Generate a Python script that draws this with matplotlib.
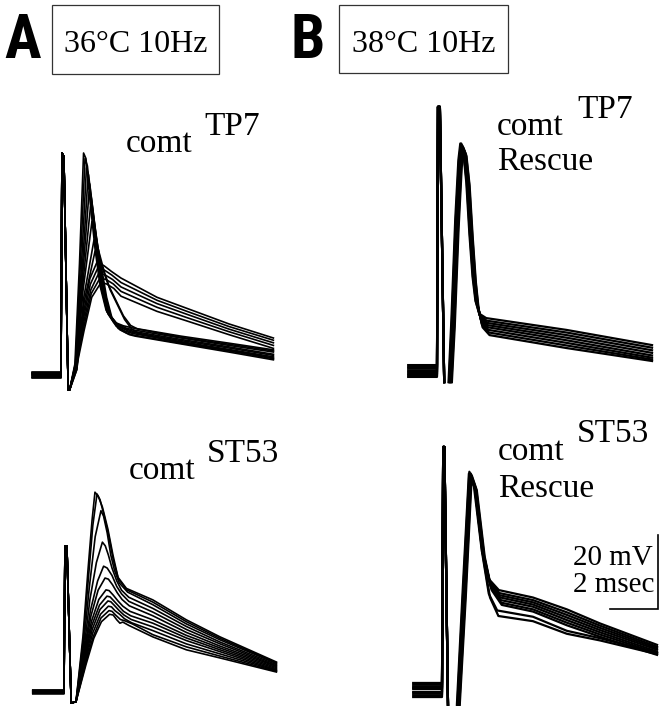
import matplotlib
matplotlib.use("Agg")
import matplotlib.pyplot as plt
from matplotlib.patches import Rectangle

W, H = 665, 719
PX_MS, PX_MV = 24.0, 3.7   # scale bar: 2 msec = 48 px, 20 mV = 74 px

# ---- A, top: comt TP7 at 36C ----
A1_T0 = -1.2
A1_BASE = [0.8, -0.6, 0.3, -0.2, 0.6, -0.8, 0.1, 0.5, -0.4, 0.7, -0.1, 0.2, -0.7, 0.4]
A1_ART_T = [0.04, 0.12, 0.3]
A1_ART_V = [60.0, 59.0, -4.0]
A1_SWEEPS = [
    ([.36, .58, .77, .94, 1.04, 1.21, 1.42, 1.63, 1.88, 2.2, 2.55, 3.0, 5.0, 7.0, 8.85],
     [-4, 3, 30, 60, 58.5, 47, 34, 24, 17.5, 14.2, 12.8, 11.8, 9.6, 7.6, 5.6]),
    ([.36, .6, .8, 1.0, 1.1, 1.27, 1.48, 1.68, 1.92, 2.25, 2.6, 3.0, 5.0, 7.0, 8.85],
     [-4, 3, 29, 58.5, 56.5, 46, 33, 23.5, 17, 14.2, 13.3, 12.7, 10.5, 8.6, 6.8]),
    ([.36, .6, .83, 1.06, 1.15, 1.32, 1.52, 1.72, 1.96, 2.3, 2.65, 3.0, 5.0, 7.0, 8.85],
     [-4, 2.5, 27, 56, 54, 44.5, 32.5, 23, 16.5, 13.2, 11.9, 11.2, 9.0, 6.9, 4.9]),
    ([.36, .62, .86, 1.12, 1.2, 1.36, 1.56, 1.76, 2.0, 2.34, 2.7, 3.0, 5.0, 7.0, 8.85],
     [-4, 2.5, 26, 53, 51.5, 43, 31.5, 22.5, 16.5, 13.8, 12.7, 12.2, 10.0, 8.0, 6.2]),
    ([.36, .62, .88, 1.17, 1.25, 1.4, 1.6, 1.8, 2.04, 2.38, 2.75, 3.0, 5.0, 7.0, 8.85],
     [-4, 2, 25, 49.5, 48.5, 41, 30.5, 22, 16, 12.6, 11.3, 10.8, 8.6, 6.5, 4.4]),
    ([.36, .64, .9, 1.23, 1.31, 1.45, 1.65, 1.85, 2.08, 2.42, 2.8, 3.0, 5.0, 7.0, 8.85],
     [-4, 2, 24, 45.5, 44.5, 38.5, 29.5, 21.5, 15.8, 13, 11.9, 11.5, 9.3, 7.3, 5.3]),
    ([.36, .64, .92, 1.29, 1.37, 1.5, 1.7, 1.9, 2.12, 2.46, 2.85, 3.1, 5.0, 7.0, 8.85],
     [-4, 2, 23, 41.5, 40.5, 36, 28.5, 21, 15.5, 12.2, 10.9, 10.5, 8.4, 6.2, 4.1]),
    ([.36, .66, .95, 1.375, 1.55, 1.8, 2.0, 2.3, 2.6, 2.9, 3.2, 5.0, 7.0, 8.85],
     [-4, 1.5, 21, 36.5, 34, 28, 24, 20, 16, 13.4, 12.4, 10.2, 8.3, 6.5]),
    ([.36, .66, .97, 1.42, 1.6, 1.85, 2.05, 2.35, 2.65, 2.95, 3.3, 5.0, 7.0, 8.85],
     [-4, 1.5, 20, 33.5, 31.5, 26.5, 23, 19, 15, 12.4, 11, 8.8, 6.7, 4.6]),
    ([.36, .67, .92, 1.2, 1.5, 1.8, 2.1, 2.5, 4.0, 5.25, 7.0, 8.85],
     [-4, 5, 16, 26, 30.5, 29.5, 28, 26.2, 21, 18, 13.8, 10]),
    ([.36, .67, .93, 1.22, 1.54, 1.82, 2.12, 2.5, 4.0, 5.25, 7.0, 8.85],
     [-4, 4.5, 15, 24.5, 29, 28.3, 27, 25, 20.2, 17.2, 13.1, 9.4]),
    ([.36, .68, .94, 1.24, 1.58, 1.85, 2.15, 2.5, 4.0, 5.25, 7.0, 8.85],
     [-4, 4, 14, 23, 27.6, 27, 25.8, 23.8, 19.3, 16.4, 12.4, 8.7]),
    ([.36, .68, .95, 1.26, 1.625, 1.88, 2.18, 2.5, 4.0, 5.25, 7.0, 8.85],
     [-4, 4, 13, 22, 26.2, 25.8, 24.6, 22.6, 18.3, 15.5, 11.7, 8.0]),
    ([.36, .69, .96, 1.28, 1.67, 1.9, 2.2, 2.5, 4.0, 5.25, 7.0, 8.85],
     [-4, 3.5, 12, 21, 25, 24.6, 23.4, 21.3, 17.2, 14.6, 10.9, 7.2]),
]

# ---- A, bottom: comt ST53 at 36C ----
A2_T0 = -1.3
A2_BASE = [0.5, -0.3, 0.2, -0.5, 0.4, -0.1, 0.3, -0.4, 0.1, 0.5, -0.2, 0.0]
A2_ART_T = [0.04, 0.12, 0.3]
A2_ART_V = [39.5, 39.5, -3.0]
A2_SWEEPS = [
    ([.5, .79, 1.0, 1.17, 1.29, 1.42, 1.6, 1.83, 2.04, 2.25, 2.6, 3.7, 5.1, 6.5, 8.85],
     [-2.6, 15, 33, 46.5, 54, 53, 50, 44, 37, 31, 28, 24.9, 19.5, 14.9, 8.1]),
    ([.5, .8, 1.02, 1.2, 1.375, 1.5, 1.66, 1.87, 2.06, 2.27, 2.62, 3.7, 5.1, 6.5, 8.85],
     [-2.6, 14, 31, 45, 53.5, 52, 48, 42, 35.5, 30.5, 27.6, 24.3, 19, 14.5, 7.9]),
    ([.5, .82, 1.05, 1.3, 1.54, 1.65, 1.8, 1.95, 2.1, 2.3, 2.65, 3.7, 5.1, 6.5, 8.85],
     [-2.6, 13, 28, 42, 49, 47.5, 43, 37, 33, 29.5, 27, 23.6, 18.4, 14.1, 7.7]),
    ([.5, .84, 1.08, 1.35, 1.6, 1.72, 1.85, 2.0, 2.2, 2.4, 2.7, 3.7, 5.1, 6.5, 8.85],
     [-2.6, 12, 25, 35, 40.5, 39.5, 37, 33.5, 30, 27.5, 25.6, 22.6, 17.7, 13.5, 7.4]),
    ([.5, .85, 1.1, 1.4, 1.65, 1.8, 2.0, 2.2, 2.4, 2.7, 3.7, 5.1, 6.5, 8.85],
     [-2.6, 11, 22, 30, 34, 33.5, 31.5, 28.5, 26.5, 24.5, 21.6, 16.9, 13, 7.1]),
    ([.5, .86, 1.12, 1.42, 1.71, 1.85, 2.02, 2.22, 2.42, 2.72, 3.7, 5.1, 6.5, 8.85],
     [-2.6, 10.5, 20.5, 27.5, 30.8, 30.5, 29, 26.8, 25, 23.3, 20.6, 16.1, 12.4, 6.9]),
    ([.5, .87, 1.14, 1.45, 1.75, 1.88, 2.05, 2.25, 2.45, 2.75, 3.7, 5.1, 6.5, 8.85],
     [-2.6, 10, 19, 25, 27.6, 27.4, 26.2, 24.6, 23.2, 21.8, 19.5, 15.3, 11.9, 6.6]),
    ([.5, .88, 1.16, 1.48, 1.79, 1.92, 2.08, 2.28, 2.48, 2.78, 3.7, 5.1, 6.5, 8.85],
     [-2.6, 9.5, 18, 23.5, 25.9, 25.7, 24.6, 23.2, 21.8, 20.6, 18.6, 14.6, 11.4, 6.3]),
    ([.5, .89, 1.18, 1.5, 1.83, 1.95, 2.1, 2.3, 2.5, 2.8, 3.7, 5.1, 6.5, 8.85],
     [-2.6, 9, 17, 22.3, 24.6, 24.4, 23.4, 22, 20.8, 19.6, 17.6, 13.9, 10.9, 6.0]),
    ([.5, .9, 1.2, 1.52, 1.85, 1.98, 2.12, 2.32, 2.52, 2.82, 3.7, 5.1, 6.5, 8.85],
     [-2.6, 8.5, 16, 21, 23.2, 23, 22, 21, 19.8, 18.7, 16.6, 13, 10.3, 5.8]),
    ([.5, .91, 1.22, 1.54, 1.875, 2.0, 2.15, 2.35, 2.55, 2.85, 3.7, 5.1, 6.5, 8.85],
     [-2.6, 8, 15, 20, 22, 21.8, 20.8, 19.6, 19.2, 18.4, 15.5, 12.2, 9.7, 5.6]),
    ([.5, .92, 1.24, 1.56, 1.9, 2.05, 2.2, 2.33, 2.45, 2.7, 3.7, 5.1, 6.5, 8.85],
     [-2.6, 7.5, 14.5, 19, 21, 20.8, 19.5, 18.6, 18.9, 18.0, 14.9, 11.4, 9.2, 5.4]),
]

# ---- B, top: comt TP7 Rescue at 38C ----
B1_T0 = -1.2
B1_BASE = [1.6, -1.2, 0.7, -0.3, 1.1, -1.6, 0.2, -0.8]
B1_ART_T = [0.04, 0.12, 0.3]
B1_ART_V = [71.4, 71.4, -3.0]
B1_SWEEPS = [
    ([.48, .6, .76, .89, .97, 1.09, 1.22, 1.35, 1.48, 1.6, 1.76, 2.05, 5.4, 8.96],
     [-3, 14, 41, 57, 61.5, 59.5, 51, 37, 25.5, 19, 15.5, 14.3, 11.1, 7.0]),
    ([.5, .62, .78, .91, .99, 1.11, 1.24, 1.37, 1.5, 1.62, 1.78, 2.07, 5.4, 8.96],
     [-3, 13.5, 40.5, 56.5, 61, 59, 51, 37, 25.5, 18.8, 15, 13.6, 10.4, 6.3]),
    ([.52, .64, .8, .93, 1.01, 1.13, 1.26, 1.39, 1.52, 1.64, 1.8, 2.09, 5.4, 8.96],
     [-3, 13.5, 40, 56.5, 61.5, 59.5, 51.5, 37.5, 26, 19.2, 14.8, 13.0, 9.7, 5.6]),
    ([.54, .66, .82, .95, 1.03, 1.15, 1.28, 1.41, 1.54, 1.66, 1.82, 2.11, 5.4, 8.96],
     [-3, 13, 40, 56, 60.5, 58.5, 50.5, 36.5, 25, 18.5, 14.2, 12.4, 9.0, 4.9]),
    ([.56, .68, .84, .97, 1.05, 1.17, 1.3, 1.43, 1.56, 1.68, 1.84, 2.13, 5.4, 8.96],
     [-3, 13, 39.5, 56, 61, 59, 51, 37, 25.5, 18.3, 13.7, 11.8, 8.3, 4.2]),
    ([.58, .7, .86, .99, 1.07, 1.19, 1.32, 1.45, 1.58, 1.7, 1.86, 2.15, 5.4, 8.96],
     [-3, 12.5, 39, 55.5, 60, 58, 50, 36, 24.5, 17.5, 13.0, 11.1, 7.6, 3.6]),
    ([.6, .72, .88, 1.01, 1.09, 1.21, 1.34, 1.47, 1.6, 1.72, 1.88, 2.17, 5.4, 8.96],
     [-3, 12.5, 39, 55, 60.5, 58.5, 50.5, 36.5, 24.5, 17, 12.4, 10.4, 6.9, 3.1]),
    ([.62, .74, .9, 1.03, 1.11, 1.23, 1.36, 1.49, 1.62, 1.74, 1.9, 2.19, 5.4, 8.96],
     [-3, 12, 38.5, 55, 60, 58, 50, 36, 24, 16.5, 11.8, 9.7, 6.2, 2.7]),
]

# ---- B, bottom: comt ST53 Rescue at 38C ----
B2_T0 = -1.2
B2_BASE = [1.9, -1.4, 0.9, -0.5, 1.4, -1.9, 0.3, -0.9, 0.6]
B2_ART_T = [0.05, 0.1, 0.25]
B2_ART_V = [65.7, 65.7, -4.0]
B2_SWEEPS = [
    ([.62, .87, 1.12, 1.33, 1.66, 1.95, 2.37, 3.79, 5.2, 6.58, 8.96],
     [-4, 28, 58.5, 55, 37.5, 30, 27, 25, 21.8, 18, 12.2]),
    ([.64, .89, 1.14, 1.35, 1.68, 1.97, 2.39, 3.79, 5.2, 6.58, 8.96],
     [-4, 27.5, 59, 55.5, 37.5, 29.5, 26.2, 24.3, 21, 17.4, 11.7]),
    ([.66, .91, 1.16, 1.37, 1.7, 1.99, 2.41, 3.79, 5.2, 6.58, 8.96],
     [-4, 27, 58.5, 55, 37, 29, 25.6, 23.7, 20.3, 16.8, 11.3]),
    ([.68, .93, 1.18, 1.39, 1.72, 2.01, 2.43, 3.79, 5.2, 6.58, 8.96],
     [-4, 26.5, 58, 54.5, 36.5, 28.5, 25, 23.1, 19.6, 16.2, 10.9]),
    ([.7, .95, 1.2, 1.41, 1.74, 2.03, 2.45, 3.79, 5.2, 6.58, 8.96],
     [-4, 26, 58.5, 54.5, 36.5, 28, 24.3, 22.5, 18.9, 15.6, 10.4]),
    ([.72, .97, 1.22, 1.43, 1.76, 2.05, 2.47, 3.79, 5.2, 6.58, 8.96],
     [-4, 25.5, 57.5, 54, 36, 27.5, 23.6, 21.8, 18.2, 15, 10]),
    ([.74, .99, 1.24, 1.45, 1.78, 2.07, 2.49, 3.79, 5.2, 6.58, 8.96],
     [-4, 25, 58, 54, 36, 27, 23, 21.2, 17.5, 14.4, 9.5]),
    ([.66, .91, 1.16, 1.37, 1.7, 1.95, 2.3, 3.79, 5.2, 6.58, 8.96],
     [-4, 27, 58, 54.5, 36, 26, 21.5, 19.8, 16, 14, 10]),
    ([.7, .95, 1.2, 1.41, 1.74, 2.0, 2.35, 3.79, 5.2, 6.58, 8.96],
     [-4, 26, 57.5, 54, 35, 25, 20, 18.6, 15.2, 13.4, 9.7]),
]

SCALE_MV, SCALE_MS = 20, 2

SERIF = ["Liberation Serif", "DejaVu Serif"]
LETTER = ["Roboto Condensed", "Liberation Sans Narrow", "Liberation Sans"]


def panel_axes(fig, x0, y0):
    # full-figure overlay; (t=0, v=0) lands on pixel (x0, y0)
    ax = fig.add_axes([0, 0, 1, 1])
    ax.set_xlim(-x0 / PX_MS, (W - x0) / PX_MS)
    ax.set_ylim(-(H - y0) / PX_MV, y0 / PX_MV)
    ax.axis("off")
    ax.patch.set_alpha(0)
    return ax


def draw_sweeps(ax, t0, base, art_t, art_v, sweeps, lw, joined=True):
    # joined=False leaves the trough open, as when the display clipped it
    for b, (ts, vs) in zip(base, sweeps):
        t = [t0, 0.0] + art_t
        v = [b, b] + art_v
        if joined:
            ax.plot(t + ts, v + vs, color="black", lw=lw, solid_joinstyle="round")
        else:
            ax.plot(t, v, color="black", lw=lw, solid_joinstyle="round")
            ax.plot(ts, vs, color="black", lw=lw, solid_joinstyle="round")


def label(fig, x, y, s, size, family=SERIF, **kw):
    fig.text(x / W, 1 - y / H, s, fontsize=size, family=family,
             ha="left", va="baseline", **kw)


fig = plt.figure(figsize=(W / 100, H / 100), dpi=100)

ax = panel_axes(fig, 61, 375)
draw_sweeps(ax, A1_T0, A1_BASE, A1_ART_T, A1_ART_V, A1_SWEEPS, 1.2)
ax = panel_axes(fig, 64, 692)
draw_sweeps(ax, A2_T0, A2_BASE, A2_ART_T, A2_ART_V, A2_SWEEPS, 1.2)
ax = panel_axes(fig, 437, 371)
draw_sweeps(ax, B1_T0, B1_BASE, B1_ART_T, B1_ART_V, B1_SWEEPS, 1.6, joined=False)
ax = panel_axes(fig, 442, 690)
draw_sweeps(ax, B2_T0, B2_BASE, B2_ART_T, B2_ART_V, B2_SWEEPS, 1.6, joined=False)

# scale bar, drawn in the B-bottom data units
cx, cy = 9.0, 21.9
ax.plot([cx - SCALE_MS, cx, cx], [cy, cy, cy + SCALE_MV], color="black", lw=1.2,
        solid_joinstyle="miter")

# header boxes
for (x1, y1, x2, y2) in [(52, 5, 219, 74), (339, 5, 508, 73)]:
    fig.patches.append(Rectangle((x1 / W, 1 - y2 / H), (x2 - x1) / W, (y2 - y1) / H,
                                 transform=fig.transFigure, fill=False,
                                 ec="#333333", lw=0.9))
fig.text(135.5 / W, 1 - 52 / H, "36°C 10Hz", fontsize=23, family=SERIF,
         ha="center", va="baseline")
fig.text(423.5 / W, 1 - 52 / H, "38°C 10Hz", fontsize=23, family=SERIF,
         ha="center", va="baseline")
label(fig, 4, 58, "A", 44, family=LETTER, weight="bold")
label(fig, 291, 58, "B", 44, family=LETTER, weight="bold")

label(fig, 126, 152, "comt", 24)
label(fig, 204, 135, "TP7", 24)
label(fig, 129, 479, "comt", 24)
label(fig, 207, 462, "ST53", 24)
label(fig, 497, 135, "comt", 24)
label(fig, 577, 118, "TP7", 24)
label(fig, 497, 170, "Rescue", 24)
label(fig, 498, 460, "comt", 24)
label(fig, 577, 442, "ST53", 24)
label(fig, 498, 497, "Rescue", 24)

label(fig, 573, 565, f"{SCALE_MV} mV", 21)
label(fig, 573, 592, f"{SCALE_MS} msec", 21)

fig.savefig("out.png", dpi=100, facecolor="white")
